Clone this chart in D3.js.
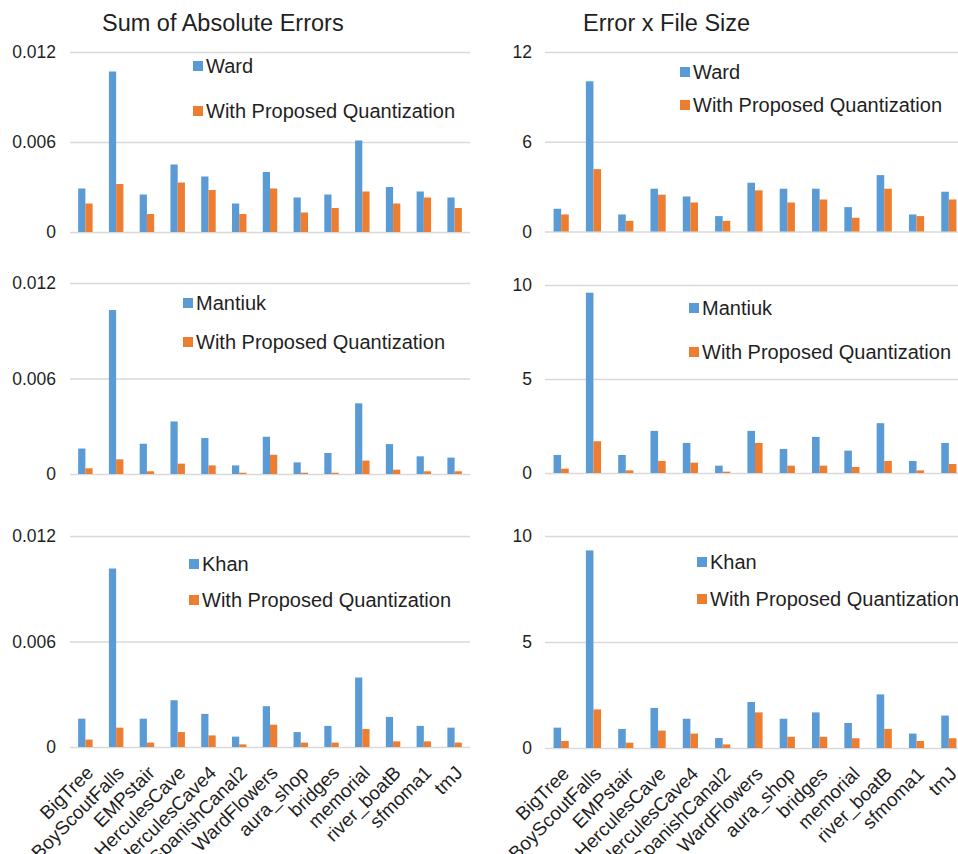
<!DOCTYPE html>
<html>
<head>
<meta charset="utf-8">
<script src="https://cdn.jsdelivr.net/npm/d3@7"></script>
<style>
  html, body { margin: 0; padding: 0; background: #fff; }
  svg { display: block; font-family: "Liberation Sans", Arial, sans-serif; }
</style>
</head>
<body>
<svg id="chart" width="958" height="854"></svg>
<script>
// ---------------- DATA ----------------
const categories = ["BigTree", "BoyScoutFalls", "EMPstair", "HerculesCave", "HerculesCave4",
  "SpanishCanal2", "WardFlowers", "aura_shop", "bridges", "memorial", "river_boatB", "sfmoma1", "tmJ"];

const seriesNames = ["base", "proposed"];
const proposedLabel = "With Proposed Quantization";
const methodNames = ["Ward", "Mantiuk", "Khan"];
const columnTitles = ["Sum of Absolute Errors", "Error x File Size"];

// Sum of absolute errors
const wardSAE      = [0.0029, 0.0107, 0.0025, 0.0045, 0.0037, 0.0019, 0.0040, 0.0023, 0.0025, 0.0061, 0.0030, 0.0027, 0.0023];
const wardSAEQ     = [0.0019, 0.0032, 0.0012, 0.0033, 0.0028, 0.0012, 0.0029, 0.0013, 0.0016, 0.0027, 0.0019, 0.0023, 0.0016];
const mantiukSAE   = [0.0016, 0.0103, 0.0019, 0.0033, 0.00226, 0.00054, 0.00234, 0.00073, 0.00132, 0.00444, 0.00188, 0.00111, 0.00103];
const mantiukSAEQ  = [0.00036, 0.00092, 0.00017, 0.00065, 0.00054, 0.00008, 0.00121, 0.00008, 0.00008, 0.00084, 0.00027, 0.00017, 0.00017];
const khanSAE      = [0.00161, 0.01015, 0.00161, 0.00266, 0.00188, 0.00059, 0.00232, 0.00085, 0.0012, 0.00395, 0.00171, 0.0012, 0.0011];
const khanSAEQ     = [0.00042, 0.0011, 0.00025, 0.00085, 0.00066, 0.00015, 0.00127, 0.00025, 0.00025, 0.00102, 0.00032, 0.00032, 0.00025];

// Error x file size
const wardEFS      = [1.52, 10.04, 1.14, 2.86, 2.34, 1.03, 3.26, 2.86, 2.86, 1.63, 3.77, 1.14, 2.66];
const wardEFSQ     = [1.14, 4.17, 0.71, 2.46, 1.94, 0.71, 2.75, 1.94, 2.14, 0.92, 2.86, 1.03, 2.14];
const mantiukEFS   = [0.96, 9.59, 0.96, 2.24, 1.60, 0.39, 2.24, 1.28, 1.92, 1.19, 2.65, 0.64, 1.60];
const mantiukEFSQ  = [0.23, 1.69, 0.14, 0.64, 0.55, 0.07, 1.60, 0.39, 0.39, 0.32, 0.64, 0.14, 0.48];
const khanEFS      = [0.96, 9.32, 0.90, 1.89, 1.38, 0.47, 2.17, 1.38, 1.68, 1.18, 2.53, 0.68, 1.53];
const khanEFSQ     = [0.33, 1.82, 0.25, 0.82, 0.68, 0.17, 1.68, 0.53, 0.53, 0.46, 0.90, 0.33, 0.46];

// Axis ticks
const saeTicks = [0, 0.006, 0.012];
const saeTickLabels = ["0", "0.006", "0.012"];
const efsTicksTop = [0, 6, 12];
const efsTickLabelsTop = ["0", "6", "12"];
const efsTicks = [0, 5, 10];
const efsTickLabels = ["0", "5", "10"];

// ---------------- LAYOUT ----------------
const colors = { base: "#5B9BD5", proposed: "#ED7D31" };
const gridColor = "#D9D9D9";
const textColor = "#1f1f1f";

const cols = [
  { x0: 70, x1: 470, tickRight: 56, titleX: 102, title: columnTitles[0] },
  { x0: 545, x1: 965, tickRight: 532, titleX: 583, title: columnTitles[1] }
];

const panels = [
  { col: 0, row: 0, top: 52, bottom: 232, max: 0.012, ticks: saeTicks, labels: saeTickLabels, base: wardSAE, prop: wardSAEQ, name: methodNames[0], lx: 193, ly1: 61, ly2: 106 },
  { col: 1, row: 0, top: 52, bottom: 231.5, max: 12, ticks: efsTicksTop, labels: efsTickLabelsTop, base: wardEFS, prop: wardEFSQ, name: methodNames[0], lx: 680, ly1: 67, ly2: 100 },
  { col: 0, row: 1, top: 283, bottom: 474, max: 0.012, ticks: saeTicks, labels: saeTickLabels, base: mantiukSAE, prop: mantiukSAEQ, name: methodNames[1], lx: 183, ly1: 298, ly2: 337 },
  { col: 1, row: 1, top: 285, bottom: 473, max: 10, ticks: efsTicks, labels: efsTickLabels, base: mantiukEFS, prop: mantiukEFSQ, name: methodNames[1], lx: 689, ly1: 303, ly2: 347 },
  { col: 0, row: 2, top: 536, bottom: 747, max: 0.012, ticks: saeTicks, labels: saeTickLabels, base: khanSAE, prop: khanSAEQ, name: methodNames[2], lx: 189, ly1: 559, ly2: 595 },
  { col: 1, row: 2, top: 536, bottom: 748, max: 10, ticks: efsTicks, labels: efsTickLabels, base: khanEFS, prop: khanEFSQ, name: methodNames[2], lx: 697, ly1: 557, ly2: 594 }
];

const svg = d3.select("#chart");

// Column titles
cols.forEach(c => {
  svg.append("text")
    .attr("x", c.titleX).attr("y", 31)
    .attr("font-size", 23.5)
    .attr("fill", textColor)
    .text(c.title);
});

panels.forEach(p => {
  const c = cols[p.col];
  const g = svg.append("g");

  const x0 = d3.scaleBand().domain(categories).range([c.x0, c.x1]).padding(0);
  const x1 = d3.scaleBand().domain(seriesNames)
    .range([x0.bandwidth() * 0.265, x0.bandwidth() * 0.735]).padding(0);
  const y = d3.scaleLinear().domain([0, p.max]).range([p.bottom, p.top]);

  // Gridlines + y tick labels via axis
  const yAxis = d3.axisLeft(y).tickValues(p.ticks)
    .tickFormat((d, i) => p.labels[i])
    .tickSize(-(c.x1 - c.x0)).tickPadding(0);
  const ya = g.append("g")
    .attr("transform", `translate(${c.x0},0)`)
    .call(yAxis);
  ya.select(".domain").remove();
  ya.selectAll(".tick line").attr("stroke", gridColor).attr("stroke-width", 1.3);
  ya.selectAll(".tick text")
    .attr("x", c.tickRight - c.x0)
    .attr("font-size", 17.5)
    .attr("font-family", "Liberation Sans, Arial, sans-serif")
    .attr("fill", textColor);

  // Bars
  const rows = categories.map((cat, i) => ({ cat, base: p.base[i], proposed: p.prop[i] }));
  const groups = g.selectAll(".grp").data(rows).enter().append("g")
    .attr("transform", d => `translate(${x0(d.cat)},0)`);
  groups.selectAll("rect").data(d => seriesNames.map(k => ({ k, v: d[k] }))).enter().append("rect")
    .attr("x", d => x1(d.k))
    .attr("width", x1.bandwidth())
    .attr("y", d => y(d.v))
    .attr("height", d => y(0) - y(d.v))
    .attr("fill", d => colors[d.k]);

  // Legend
  const legend = [
    { label: p.name, color: colors.base, y: p.ly1 },
    { label: proposedLabel, color: colors.proposed, y: p.ly2 }
  ];
  legend.forEach(l => {
    g.append("rect").attr("x", p.lx).attr("y", l.y).attr("width", 10).attr("height", 10).attr("fill", l.color);
    g.append("text").attr("x", p.lx + 13).attr("y", l.y + 11.5)
      .attr("font-size", 20).attr("fill", textColor).text(l.label);
  });

  // Category labels on the bottom row
  if (p.row === 2) {
    const xAxis = d3.axisBottom(x0).tickSize(0).tickPadding(0);
    const xa = g.append("g").attr("transform", `translate(0,${p.bottom})`).call(xAxis);
    xa.select(".domain").remove();
    xa.selectAll(".tick text")
      .attr("font-size", 19)
      .attr("font-family", "Liberation Sans, Arial, sans-serif")
      .attr("fill", textColor)
      .attr("text-anchor", "end")
      .attr("dy", 0)
      .attr("transform", "translate(9,27) rotate(-45)");
  }
});
</script>
</body>
</html>
